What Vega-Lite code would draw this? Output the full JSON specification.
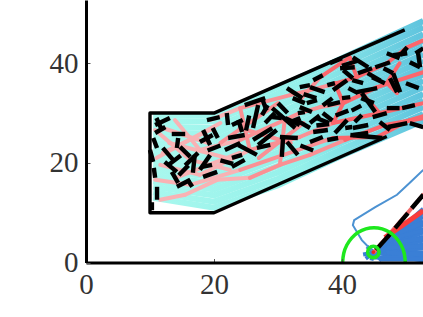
{
"$schema":"https://vega.github.io/schema/vega-lite/v6.json",
"width":337,"height":262.5,"autosize":"none","padding":{"left":86,"top":0,"right":0,"bottom":54},
"background":"white","config":{"view":{"stroke":null}},
"datasets":{
"fan":[
{"t":0,"x":10.5,"y":13},{"t":0,"x":20,"y":11},{"t":0,"x":30,"y":15.5},{"t":0,"x":40,"y":21.5},{"t":0,"x":52.7,"y":28.5},
{"t":1,"x":10.5,"y":14.1},{"t":1,"x":20,"y":12.2},{"t":1,"x":30,"y":16.8},{"t":1,"x":40,"y":22.8},{"t":1,"x":52.7,"y":29.8},
{"t":2,"x":10.5,"y":15.2},{"t":2,"x":20,"y":13.5},{"t":2,"x":30,"y":18.1},{"t":2,"x":40,"y":24.1},{"t":2,"x":52.7,"y":31.2},
{"t":3,"x":10.5,"y":16.3},{"t":3,"x":20,"y":14.7},{"t":3,"x":30,"y":19.4},{"t":3,"x":40,"y":25.4},{"t":3,"x":52.7,"y":32.5},
{"t":4,"x":10.5,"y":17.4},{"t":4,"x":20,"y":15.9},{"t":4,"x":30,"y":20.8},{"t":4,"x":40,"y":26.7},{"t":4,"x":52.7,"y":33.8},
{"t":5,"x":10.5,"y":18.5},{"t":5,"x":20,"y":17.2},{"t":5,"x":30,"y":22.1},{"t":5,"x":40,"y":28},{"t":5,"x":52.7,"y":35.2},
{"t":6,"x":10.5,"y":19.6},{"t":6,"x":20,"y":18.4},{"t":6,"x":30,"y":23.4},{"t":6,"x":40,"y":29.3},{"t":6,"x":52.7,"y":36.5},
{"t":7,"x":10.5,"y":20.7},{"t":7,"x":20,"y":19.6},{"t":7,"x":30,"y":24.7},{"t":7,"x":40,"y":30.6},{"t":7,"x":52.7,"y":37.8},
{"t":8,"x":10.5,"y":21.8},{"t":8,"x":20,"y":20.9},{"t":8,"x":30,"y":26},{"t":8,"x":40,"y":31.9},{"t":8,"x":52.7,"y":39.2},
{"t":9,"x":10.5,"y":22.9},{"t":9,"x":20,"y":22.1},{"t":9,"x":30,"y":27.3},{"t":9,"x":40,"y":33.2},{"t":9,"x":52.7,"y":40.5},
{"t":10,"x":10.5,"y":24},{"t":10,"x":20,"y":23.3},{"t":10,"x":30,"y":28.6},{"t":10,"x":40,"y":34.5},{"t":10,"x":52.7,"y":41.8},
{"t":11,"x":10.5,"y":25.1},{"t":11,"x":20,"y":24.6},{"t":11,"x":30,"y":29.9},{"t":11,"x":40,"y":35.8},{"t":11,"x":52.7,"y":43.2},
{"t":12,"x":10.5,"y":26.2},{"t":12,"x":20,"y":25.8},{"t":12,"x":30,"y":31.3},{"t":12,"x":40,"y":37.1},{"t":12,"x":52.7,"y":44.5},
{"t":13,"x":10.5,"y":27.3},{"t":13,"x":20,"y":27},{"t":13,"x":30,"y":32.6},{"t":13,"x":40,"y":38.4},{"t":13,"x":52.7,"y":45.8},
{"t":14,"x":10.5,"y":28.4},{"t":14,"x":20,"y":28.3},{"t":14,"x":30,"y":33.9},{"t":14,"x":40,"y":39.7},{"t":14,"x":52.7,"y":47.2},
{"t":15,"x":10.5,"y":29.5},{"t":15,"x":20,"y":29.5},{"t":15,"x":30,"y":35.2},{"t":15,"x":40,"y":41},{"t":15,"x":52.7,"y":48.5}
],
"blue":[
{"x":45,"y":2,"x2":52.7,"y2":0.4},{"x":45,"y":2,"x2":52.7,"y2":1.2},{"x":45,"y":2,"x2":52.7,"y2":2},{"x":45,"y":2,"x2":52.7,"y2":2.8},{"x":45,"y":2,"x2":52.7,"y2":3.6},{"x":45,"y":2,"x2":52.7,"y2":4.4},{"x":45,"y":2,"x2":52.7,"y2":5.2},{"x":45,"y":2,"x2":52.7,"y2":6},{"x":45,"y":2,"x2":52.7,"y2":6.8},{"x":45,"y":2,"x2":52.7,"y2":7.6},{"x":45,"y":2,"x2":52.7,"y2":8.4},{"x":45,"y":2,"x2":52.7,"y2":9.2},{"x":45,"y":2,"x2":52.7,"y2":10},{"x":45,"y":2,"x2":52.7,"y2":10.8},
{"x":45,"y":1,"x2":52.7,"y2":0.8},{"x":45,"y":2,"x2":43.3,"y2":1.6},{"x":45,"y":2,"x2":43.7,"y2":0.8},{"x":45,"y":2,"x2":43.9,"y2":3.2},{"x":45,"y":2,"x2":44.6,"y2":0.4},{"x":45,"y":2,"x2":46.2,"y2":0.4},
{"x":46,"y":0.6,"x2":52.7,"y2":0.6},{"x":47,"y":2,"x2":52.7,"y2":1.6},{"x":47,"y":3,"x2":52.7,"y2":3.2},{"x":48,"y":4,"x2":52.7,"y2":4.8},{"x":48,"y":5,"x2":52.7,"y2":6.4},{"x":49,"y":6,"x2":52.7,"y2":8}
],
"wander":[
{"i":0,"x":44.9,"y":2.1},{"i":1,"x":43.1,"y":4.5},{"i":2,"x":41.7,"y":7.5},{"i":3,"x":41.9,"y":8.5},{"i":4,"x":45.2,"y":11.1},{"i":5,"x":48.6,"y":13.6},{"i":6,"x":50.6,"y":16},{"i":7,"x":52.7,"y":18.6}
],
"net":[
{"x":11.6,"y":12.6,"x2":15.5,"y2":13.6,"z":"a"},{"x":15.5,"y":13.6,"x2":20.5,"y2":16.6,"z":"a"},{"x":20.5,"y":16.6,"x2":25.6,"y2":17,"z":"a"},{"x":25.6,"y":17,"x2":30.3,"y2":19.6,"z":"b"},{"x":30.3,"y":19.6,"x2":35,"y2":21.6,"z":"b"},{"x":35,"y":21.6,"x2":40.5,"y2":24.6,"z":"b"},{"x":40.5,"y":24.6,"x2":46.7,"y2":27.6,"z":"c"},{"x":46.7,"y":27.6,"x2":52.7,"y2":29,"z":"c"},
{"x":33.4,"y":25.2,"x2":38.6,"y2":28,"z":"b"},{"x":38.6,"y":28,"x2":45.9,"y2":30,"z":"c"},{"x":45.9,"y":30,"x2":52.7,"y2":32,"z":"c"},
{"x":33.4,"y":30,"x2":36.6,"y2":31.2,"z":"b"},{"x":36.6,"y":31.2,"x2":40.2,"y2":32,"z":"b"},{"x":40.2,"y":32,"x2":45.5,"y2":35.2,"z":"c"},{"x":45.5,"y":35.2,"x2":52.7,"y2":38.2,"z":"c"},
{"x":33.4,"y":32.6,"x2":36.6,"y2":37.2,"z":"b"},{"x":36.6,"y":37.2,"x2":41.2,"y2":41.2,"z":"c"},
{"x":42.3,"y":37.2,"x2":47,"y2":40,"z":"c"},{"x":47,"y":40,"x2":50.2,"y2":43.2,"z":"c"},{"x":50.2,"y":43.2,"x2":52.7,"y2":44.6,"z":"c"},
{"x":34.5,"y":23.2,"x2":38.6,"y2":25,"z":"b"},{"x":38.6,"y":25,"x2":45.5,"y2":25.2,"z":"c"},{"x":45.5,"y":25.2,"x2":50.6,"y2":28.6,"z":"c"},{"x":50.6,"y":28.6,"x2":52.7,"y2":29.4,"z":"c"},
{"x":10.8,"y":26.6,"x2":16.3,"y2":20.6,"z":"a"},{"x":16.3,"y":20.6,"x2":22.5,"y2":18.6,"z":"a"},
{"x":13.9,"y":28.6,"x2":17.8,"y2":22.6,"z":"a"},{"x":17.8,"y":22.6,"x2":24.1,"y2":24.6,"z":"a"},{"x":24.1,"y":24.6,"x2":33.4,"y2":30,"z":"b"},
{"x":11.6,"y":19.6,"x2":17.8,"y2":17.6,"z":"a"},{"x":17.8,"y":17.6,"x2":25.6,"y2":22.6,"z":"a"},{"x":25.6,"y":22.6,"x2":33.4,"y2":25.2,"z":"b"},
{"x":10.8,"y":16.6,"x2":16.3,"y2":15.6,"z":"a"},{"x":16.3,"y":15.6,"x2":24.1,"y2":18.6,"z":"a"},{"x":24.1,"y":18.6,"x2":34.5,"y2":23.2,"z":"b"},
{"x":19.4,"y":28.6,"x2":24.1,"y2":31,"z":"a"},{"x":24.1,"y":31,"x2":31.9,"y2":33.6,"z":"b"},{"x":31.9,"y":33.6,"x2":38.1,"y2":35.6,"z":"b"},{"x":38.1,"y":35.6,"x2":42.3,"y2":37.2,"z":"c"},
{"x":38.6,"y":28,"x2":40.2,"y2":32,"z":"c"},{"x":40.2,"y":32,"x2":38.9,"y2":36,"z":"c"},{"x":41.2,"y":41.2,"x2":42.3,"y2":37.2,"z":"c"},{"x":45.9,"y":30,"x2":43.1,"y2":34,"z":"c"},{"x":47,"y":36,"x2":48.6,"y2":34,"z":"c"},{"x":49,"y":40,"x2":47,"y2":36,"z":"c"},{"x":25.6,"y":22.6,"x2":24.1,"y2":31,"z":"b"},{"x":30.3,"y":19.6,"x2":31,"y2":28,"z":"b"},{"x":12,"y":22,"x2":20,"y2":27,"z":"a"},{"x":12,"y":27,"x2":19,"y2":24,"z":"a"},
{"x":13,"y":24,"x2":22,"y2":21,"z":"a"},{"x":11,"y":21,"x2":21,"y2":28,"z":"a"},{"x":14,"y":17,"x2":24,"y2":22,"z":"a"},{"x":21,"y":24,"x2":30,"y2":32,"z":"b"},{"x":24,"y":27,"x2":32,"y2":24,"z":"b"},{"x":27,"y":21,"x2":34,"y2":28,"z":"b"},
{"x":45,"y":2.1,"x2":52.7,"y2":13.6,"z":"p"}
],
"stem":[{"x":46.7,"y":5,"x2":52.7,"y2":10.4}],
"dash":[
{"x":10.8,"y":27.6,"x2":13.1,"y2":29},{"x":13.4,"y":25.8,"x2":15.5,"y2":25.8},{"x":14.4,"y":25,"x2":14.2,"y2":23},{"x":14.7,"y":23.2,"x2":16.3,"y2":21.2},{"x":12,"y":23,"x2":13.6,"y2":20.6},{"x":12.3,"y":20.2,"x2":14.2,"y2":18.2},{"x":13.4,"y":18.2,"x2":14.4,"y2":16},{"x":14.2,"y":15.2,"x2":16.3,"y2":16.6},{"x":16.6,"y":15.2,"x2":15.9,"y2":16.6},{"x":17,"y":21.6,"x2":16.7,"y2":18},
{"x":17.8,"y":18.6,"x2":19.4,"y2":21.6},{"x":18.1,"y":19.2,"x2":19.7,"y2":19.6},{"x":18.3,"y":17.2,"x2":20.5,"y2":18.2},{"x":17.8,"y":24.2,"x2":19.8,"y2":25.6},{"x":18.3,"y":26.6,"x2":19.4,"y2":23.6},{"x":19.8,"y":27,"x2":20.6,"y2":25},{"x":18.9,"y":28.6,"x2":20.9,"y2":29.2},{"x":10.5,"y":25,"x2":11.1,"y2":23},{"x":10,"y":22.6,"x2":10.5,"y2":20.2},{"x":10.6,"y":19,"x2":10.8,"y2":17},
{"x":11.1,"y":15.2,"x2":11.1,"y2":12.6},{"x":10.3,"y":12.1,"x2":10.3,"y2":10.5},{"x":22,"y":30,"x2":22.2,"y2":27.6},{"x":22.8,"y":27.6,"x2":24.5,"y2":28.6},{"x":23.8,"y":28.6,"x2":24.4,"y2":26.2},{"x":24.8,"y":31.6,"x2":28,"y2":33},{"x":26.9,"y":31.6,"x2":26.1,"y2":27},{"x":27.5,"y":29.6,"x2":28.4,"y2":31.6},{"x":26.1,"y":24.6,"x2":29.1,"y2":27},{"x":26.9,"y":23.6,"x2":29.8,"y2":26.6},
{"x":29.1,"y":31,"x2":32.7,"y2":27},{"x":29.1,"y":29.2,"x2":30.6,"y2":29},{"x":31.4,"y":35,"x2":33.8,"y2":33},{"x":32.3,"y":33,"x2":34.2,"y2":32},{"x":33.1,"y":30,"x2":34.2,"y2":30.2},{"x":30.3,"y":25.2,"x2":33.1,"y2":25},{"x":30.8,"y":25.2,"x2":30.6,"y2":21.2},{"x":31.4,"y":24.2,"x2":33.1,"y2":21.6},{"x":22.2,"y":25,"x2":24.8,"y2":25.6},{"x":21.7,"y":22.6,"x2":24.1,"y2":24},
{"x":23.8,"y":23.6,"x2":26.7,"y2":21.6},{"x":22.8,"y":21,"x2":24.4,"y2":21.6},{"x":22.8,"y":19.2,"x2":24.8,"y2":20.6},{"x":26.7,"y":23,"x2":28.8,"y2":23.6},{"x":33.4,"y":35.2,"x2":35,"y2":35.6},{"x":35,"y":35.2,"x2":37.3,"y2":34.2},{"x":35.5,"y":36.6,"x2":37,"y2":37.6},{"x":38.1,"y":40,"x2":40,"y2":41},{"x":41.7,"y":41.2,"x2":44.1,"y2":39.2},{"x":39.7,"y":39,"x2":42,"y2":39.2},
{"x":40.2,"y":38.6,"x2":41.7,"y2":37},{"x":37.7,"y":35.6,"x2":38.9,"y2":36},{"x":38.6,"y":34.6,"x2":40.8,"y2":36.6},{"x":41.6,"y":36.6,"x2":43.3,"y2":36},{"x":42.5,"y":38,"x2":44.7,"y2":39},{"x":44.7,"y":37.2,"x2":46.7,"y2":36},{"x":45.2,"y":39.2,"x2":47.5,"y2":40.2},{"x":48,"y":41.6,"x2":50.2,"y2":42},{"x":49.1,"y":41.6,"x2":50.2,"y2":43.2},{"x":50.6,"y":40.2,"x2":52.2,"y2":39.2},
{"x":52.2,"y":39.2,"x2":51.9,"y2":42},{"x":47.5,"y":37,"x2":48.6,"y2":34.2},{"x":48,"y":38,"x2":49.1,"y2":34.2},{"x":42.3,"y":34.2,"x2":45.5,"y2":35},{"x":43.1,"y":34,"x2":45.2,"y2":30.2},{"x":37.7,"y":31.6,"x2":39.7,"y2":32.2},{"x":40,"y":33,"x2":41.3,"y2":33.2},{"x":33.4,"y":31.2,"x2":35.3,"y2":30.2},{"x":34.5,"y":32,"x2":36.1,"y2":32.6},{"x":44.8,"y":29.2,"x2":47,"y2":30},
{"x":49.4,"y":31,"x2":51.4,"y2":31.6},{"x":42,"y":28.2,"x2":43.1,"y2":29.6},{"x":38.9,"y":26,"x2":40.8,"y2":28.6},{"x":40.5,"y":27,"x2":41.6,"y2":27.2},{"x":41.7,"y":27,"x2":44.1,"y2":27.6},{"x":41.7,"y":25.6,"x2":44.1,"y2":26},{"x":35.5,"y":26.2,"x2":37.8,"y2":26.6},{"x":35,"y":24.2,"x2":37,"y2":25.2},{"x":37.7,"y":24.6,"x2":39.4,"y2":25},{"x":41.3,"y":25.6,"x2":46.3,"y2":25},
{"x":45.9,"y":28.2,"x2":47.5,"y2":26.6},{"x":47.2,"y":27.2,"x2":50.2,"y2":28},{"x":50.6,"y":28,"x2":52.7,"y2":27.2},{"x":31.1,"y":29,"x2":33.4,"y2":27.6},{"x":45.3,"y":2.5,"x2":47.8,"y2":6.1},{"x":48.3,"y":6.9,"x2":50.3,"y2":9.9},{"x":50.9,"y":10.9,"x2":52.7,"y2":13.6},
{"x":11,"y":29,"x2":11.8,"y2":26.8},{"x":10.8,"y":26,"x2":12.4,"y2":27.2},{"x":15.5,"y":19.5,"x2":17.5,"y2":22},{"x":12.8,"y":19.5,"x2":14.8,"y2":21.5},{"x":14.5,"y":17.5,"x2":16,"y2":19.5},{"x":19,"y":22.5,"x2":21,"y2":23.5},{"x":21,"y":20.5,"x2":23,"y2":19.8},{"x":25,"y":26.5,"x2":25.5,"y2":29.5},{"x":28,"y":28,"x2":29.5,"y2":30},{"x":27.5,"y":33,"x2":28.2,"y2":30.5},
{"x":30,"y":32,"x2":31.5,"y2":30},{"x":31.5,"y":28,"x2":33.5,"y2":29},{"x":33,"y":28.5,"x2":35,"y2":27},{"x":35,"y":28,"x2":36.5,"y2":29.5},{"x":36,"y":29,"x2":38,"y2":28},{"x":37,"y":30,"x2":38.5,"y2":28.5},{"x":33.5,"y":23.5,"x2":35.5,"y2":22.5},{"x":36,"y":27.5,"x2":38,"y2":27.8},{"x":38.5,"y":33,"x2":37,"y2":31.5},{"x":39,"y":29.5,"x2":41,"y2":30.5},
{"x":41.5,"y":30.5,"x2":43,"y2":31.5},{"x":44,"y":38,"x2":46,"y2":36.5},{"x":46.5,"y":39,"x2":48,"y2":38},{"x":47,"y":42,"x2":49,"y2":41},{"x":50,"y":36,"x2":52,"y2":35},{"x":51.5,"y":42,"x2":52.7,"y2":43},{"x":47,"y":31,"x2":49,"y2":31},{"x":43,"y":33,"x2":45,"y2":32},{"x":40,"y":39.5,"x2":42.5,"y2":40.5},{"x":41,"y":35,"x2":42.5,"y2":34},{"x":34,"y":33.8,"x2":36,"y2":33}
],
"outline":[
{"i":0,"x":47,"y":25.3},{"i":1,"x":20,"y":10},{"i":2,"x":10,"y":10},{"i":3,"x":10,"y":30},{"i":4,"x":20,"y":30},{"i":5,"x":49.8,"y":46.7}
],
"arc":[
{"i":0,"x":49.9,"y":0},{"i":1,"x":49.73,"y":1.81},{"i":2,"x":49.24,"y":3.5},{"i":3,"x":48.46,"y":4.95},{"i":4,"x":47.45,"y":6.06},{"i":5,"x":46.27,"y":6.76},{"i":6,"x":45,"y":7},{"i":7,"x":43.73,"y":6.76},{"i":8,"x":42.55,"y":6.06},{"i":9,"x":41.54,"y":4.95},{"i":10,"x":40.76,"y":3.5},{"i":11,"x":40.27,"y":1.81},{"i":12,"x":40.1,"y":0}
],
"focus":[{"x":44.9,"y":2.1}]
},
"encoding":{
"x":{"field":"x","type":"quantitative","title":null,"scale":{"domain":[0,52.66],"nice":false,"zero":false},"axis":{"values":[0,20,40],"grid":false,"zindex":1,"labelFlush":false,"domainColor":"black","domainWidth":3,"tickColor":"#555","tickWidth":1,"tickSize":-4,"labelFont":"Liberation Serif","labelFontSize":29,"labelColor":"#333","labelPadding":12,"labelAngle":0}},
"y":{"field":"y","type":"quantitative","title":null,"scale":{"domain":[0,52.7],"nice":false,"zero":false},"axis":{"values":[0,20,40],"grid":false,"zindex":1,"labelFlush":false,"domainColor":"black","domainWidth":3,"tickColor":"#555","tickWidth":1,"tickSize":-4,"labelFont":"Liberation Serif","labelFontSize":29,"labelColor":"#333","labelPadding":12}}
},
"layer":[
{"data":{"name":"fan"},"mark":{"type":"line","strokeWidth":6.1,"color":{"gradient":"linear","x1":0,"x2":1,"y1":0,"y2":0,"stops":[{"offset":0,"color":"#a8f8ee"},{"offset":0.55,"color":"#94f0ea"},{"offset":1,"color":"#5fc4de"}]}},"encoding":{"detail":{"field":"t","type":"nominal"}}},
{"data":{"name":"blue"},"mark":{"type":"rule","strokeWidth":4,"color":"#3a7fd6"},"encoding":{"x2":{"field":"x2"},"y2":{"field":"y2"}}},
{"data":{"name":"wander"},"mark":{"type":"line","strokeWidth":2,"color":"#4c92d2"},"encoding":{"order":{"field":"i","type":"quantitative"}}},
{"data":{"name":"net"},"mark":{"type":"rule","strokeWidth":4,"strokeCap":"round"},"encoding":{"x2":{"field":"x2"},"y2":{"field":"y2"},"color":{"field":"z","type":"nominal","legend":null,"scale":{"domain":["a","b","c","p"],"range":["#f9b2b4","#fa9094","#fc666c","#f06a6a"]}}}},
{"data":{"name":"stem"},"mark":{"type":"rule","strokeWidth":5,"color":"#fb3c3c"},"encoding":{"x2":{"field":"x2"},"y2":{"field":"y2"}}},
{"data":{"name":"dash"},"mark":{"type":"rule","strokeWidth":4.4,"color":"black"},"encoding":{"x2":{"field":"x2"},"y2":{"field":"y2"}}},
{"data":{"name":"outline"},"mark":{"type":"line","strokeWidth":3.4,"color":"black","strokeJoin":"round"},"encoding":{"order":{"field":"i","type":"quantitative"}}},
{"data":{"name":"arc"},"mark":{"type":"line","strokeWidth":3.5,"color":"#1ee81e","interpolate":"cardinal"},"encoding":{"order":{"field":"i","type":"quantitative"}}},
{"data":{"name":"focus"},"mark":{"type":"point","size":130,"strokeWidth":3.5,"color":"#1ee81e","filled":false,"opacity":1}},
{"data":{"name":"focus"},"mark":{"type":"point","size":14,"color":"#f02020","filled":true,"opacity":1}}
]
}
